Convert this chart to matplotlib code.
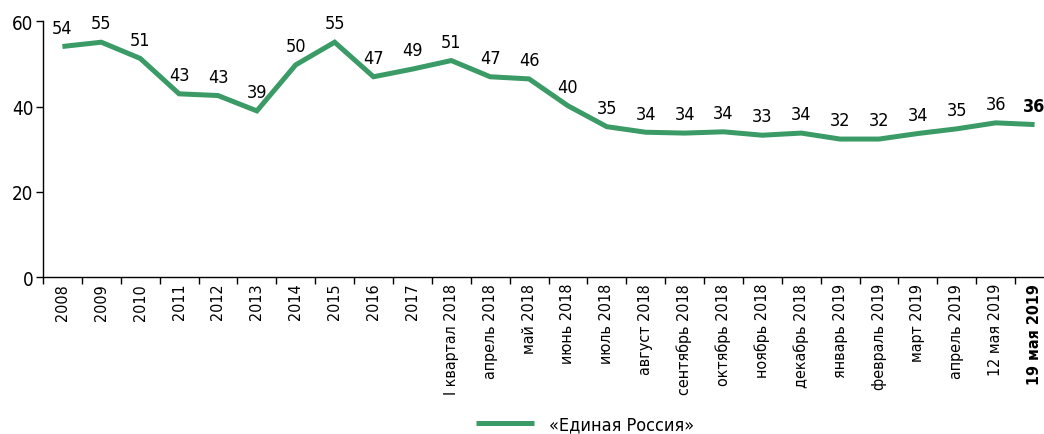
import matplotlib
matplotlib.use("Agg")
import matplotlib.pyplot as plt
import numpy as np

plt.rcParams['font.family'] = ['DejaVu Sans']
plt.rcParams['font.stretch'] = 'condensed'

# categories (x axis)
periods = ['2008', '2009', '2010', '2011', '2012', '2013', '2014', '2015', '2016', '2017',
           'I квартал 2018', 'апрель 2018', 'май 2018', 'июнь 2018', 'июль 2018',
           'август 2018', 'сентябрь 2018', 'октябрь 2018', 'ноябрь 2018', 'декабрь 2018',
           'январь 2019', 'февраль 2019', 'март 2019', 'апрель 2019', '12 мая 2019',
           '19 мая 2019']

# line values and the rounded labels printed above them
er_values = [54.1, 55.1, 51.3, 43.0, 42.6, 39.0, 49.8, 55.1, 47.0, 48.8,
             50.8, 47.0, 46.5, 40.2, 35.3, 34.0, 33.8, 34.1, 33.3, 33.8,
             32.4, 32.4, 33.7, 34.8, 36.2, 35.8]
er_labels = [54, 55, 51, 43, 43, 39, 50, 55, 47, 49,
             51, 47, 46, 40, 35, 34, 34, 34, 33, 34,
             32, 32, 34, 35, 36, 36]

green = '#3a9b66'

fig = plt.figure(figsize=(10.44, 4.35), dpi=100)
ax = fig.add_axes([43 / 1044, 1 - 278.3 / 435, 1011 / 1044, 256 / 435])

x = np.arange(len(periods))
line, = ax.plot(x, er_values, color=green, lw=3.6, solid_capstyle='butt',
                solid_joinstyle='miter', label='«Единая Россия»')

for i, (xv, yv, lab) in enumerate(zip(x, er_values, er_labels)):
    ax.annotate(str(lab), (xv, yv), xytext=(0, 7), textcoords='offset points',
                ha='center', va='bottom', fontsize=13,
                fontweight='bold' if i == len(x) - 1 else 'normal')

ax.set_xlim(-0.5, len(periods) - 0.5)
ax.set_ylim(0, 60)
ax.set_yticks([0, 20, 40, 60])
ax.tick_params(axis='y', labelsize=13.5, length=5, width=1, pad=2)

ax.set_xticks(x)
ax.set_xticklabels(periods, rotation=90, fontsize=11.5)
ax.tick_params(axis='x', which='major', length=0, pad=4)
ax.set_xticks(np.arange(len(periods) + 1) - 0.5, minor=True)
ax.tick_params(axis='x', which='minor', length=5, width=1)
ax.get_xticklabels()[-1].set_fontweight('bold')

for s in ['top', 'right']:
    ax.spines[s].set_visible(False)
for s in ['left', 'bottom']:
    ax.spines[s].set_linewidth(1)

fig.legend(handles=[line], loc='center', bbox_to_anchor=(585 / 1044, 1 - 425 / 435),
           frameon=False, fontsize=13, handlelength=3.2)

fig.savefig('out.png', dpi=100)
